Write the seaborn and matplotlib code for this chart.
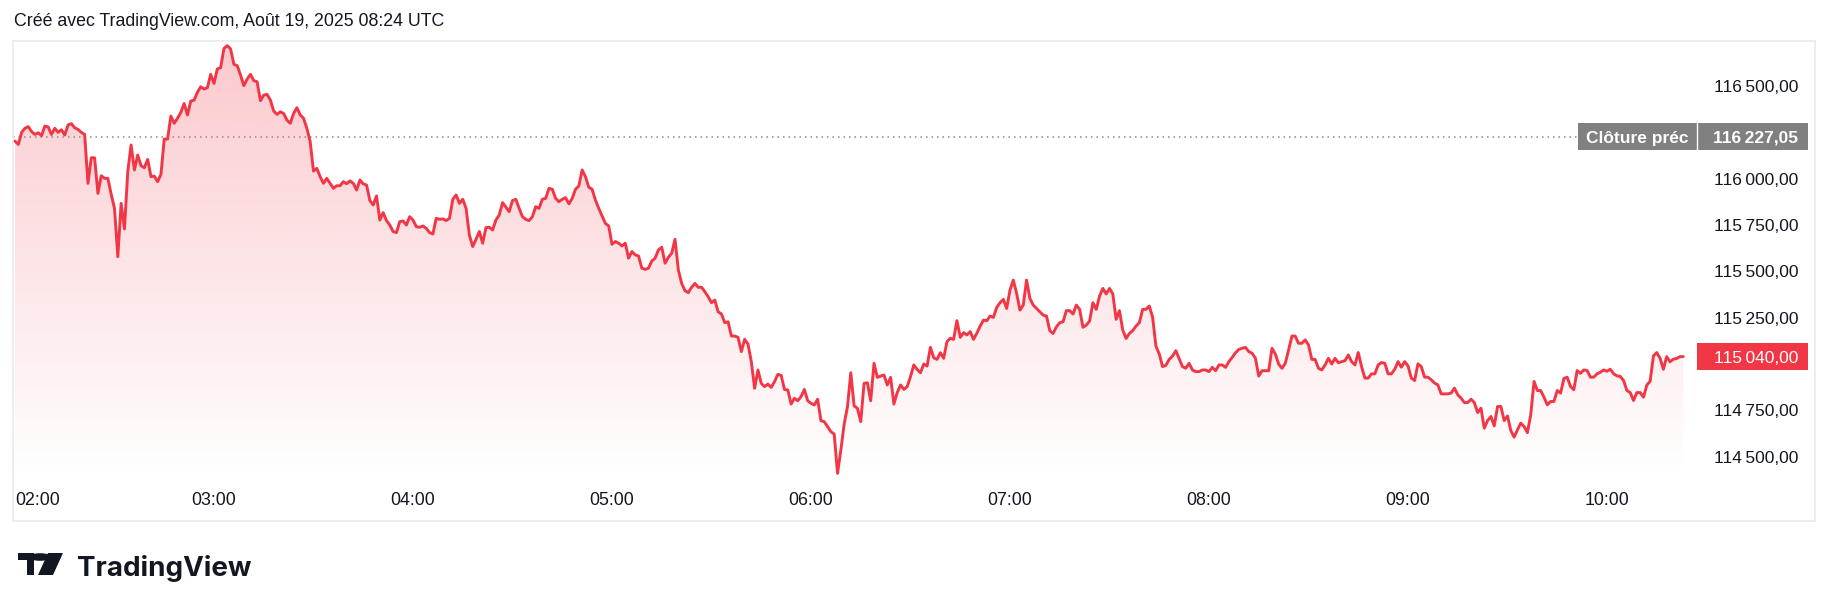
import numpy as np
import pandas as pd
import matplotlib
matplotlib.use("Agg")
import matplotlib.pyplot as plt
import matplotlib.dates as mdates
import matplotlib.transforms as mtransforms
from matplotlib.colors import to_rgb
from matplotlib.patches import Rectangle, Polygon, Circle
import seaborn as sns

# BTC price, 1-minute closes (02:00 -> 10:23)
prices_0200 = [
    116203, 116185, 116250, 116272, 116281, 116254, 116239, 116248, 116232, 116284,
    116279, 116239, 116272, 116250, 116264, 116236, 116290, 116297, 116275, 116266,
    116250, 116239, 115975, 116113, 116113, 115921, 116016, 116002, 116002, 115916,
    115840, 115579, 115867, 115729, 116038, 116182, 116047, 116128, 116070, 116059,
    116104, 116011, 116014, 115984, 116023, 116214, 116214, 116338, 116299, 116326,
    116358, 116406, 116344, 116419, 116424, 116466, 116496, 116484, 116491, 116563,
    116514, 116592, 116599, 116703, 116718, 116700, 116617, 116610, 116559, 116502,
    116538, 116563, 116529, 116523, 116421, 116451, 116455, 116424, 116365, 116347,
    116361, 116352, 116316, 116299, 116352, 116383, 116344, 116326, 116272, 116200,
    116041, 116056, 116011, 115975, 116002, 115975, 115948, 115962, 115962, 115984,
    115973,
]
prices_0341 = [
    115988, 115975, 115939, 115993, 115972, 115966, 115882, 115858, 115907, 115777,
    115817, 115774, 115750, 115715, 115709, 115768, 115772, 115750, 115795, 115777,
    115741, 115738, 115745, 115732, 115709, 115702, 115786, 115781, 115783, 115774,
    115786, 115889, 115912, 115867, 115889, 115840, 115696, 115634, 115673, 115715,
    115652, 115736, 115738, 115723, 115777, 115804, 115871, 115846, 115822, 115882,
    115889, 115840, 115795, 115781, 115774, 115795, 115849, 115840, 115889, 115894,
    115948, 115943, 115894, 115876, 115889, 115898, 115864, 115894, 115943, 115961,
    116047, 116011, 115954, 115943, 115885, 115840, 115799, 115759, 115745, 115646,
    115661, 115652, 115637, 115652, 115571, 115607, 115589, 115583, 115517, 115511,
    115517, 115556, 115571, 115616, 115630, 115544, 115576, 115598, 115673, 115508,
]
prices_0521 = [
    115435, 115396, 115385, 115414, 115435, 115414, 115414, 115390, 115363, 115331,
    115345, 115282, 115270, 115223, 115228, 115151, 115151, 115144, 115067, 115133,
    115108, 115013, 114869, 114968, 114896, 114878, 114892, 114874, 114905, 114944,
    114939, 114863, 114860, 114784, 114815, 114802, 114824, 114863, 114802, 114788,
    114779, 114810, 114694, 114689, 114662, 114635, 114622, 114410, 114536, 114676,
    114770, 114953, 114774, 114761, 114689, 114896, 114899, 114802, 115004, 114928,
    114935, 114941, 114887, 114928, 114784, 114846, 114887, 114863, 114878, 114932,
    114995, 114971, 114953, 115000, 114989, 115090, 115034, 115025, 115061, 115031,
    115121, 115139, 115133,
    115234, 115144, 115169, 115157, 115175, 115133, 115166, 115205, 115237, 115234,
    115259, 115252, 115306, 115331, 115349, 115300, 115399, 115453,
]
prices_0702 = [
    115381, 115291, 115318, 115453, 115354, 115318, 115300, 115282, 115264, 115259,
    115180, 115165, 115201, 115223, 115228, 115288, 115288, 115270, 115318, 115295,
    115198, 115210, 115232, 115331, 115295, 115367, 115408, 115378, 115408, 115378,
    115241, 115288, 115183, 115138, 115165, 115180, 115205, 115223, 115295, 115295,
    115313, 115252, 115097, 115054, 114986, 114993, 115025, 115043, 115072, 115029,
    114986, 114977, 115004, 114968, 114959, 114959, 114968, 114968, 114959, 114982,
    114964, 114995, 114995, 114982, 115013, 115036, 115061, 115079, 115085, 115090,
    115067, 115058, 115031, 114935, 114964, 114964, 114964, 115085, 115054, 115000,
    114977, 115004, 115076, 115151, 115151, 115112, 115112, 115130, 115103, 115025,
    115025, 114977, 114968, 114995, 115031, 115000, 115031, 115007, 115013, 115018,
]
prices_0842 = [
    115049, 115013, 114995, 115062, 114986, 114924, 114924, 114947, 114947, 114995,
    115008, 115004, 114947, 114947, 114972, 115013, 114983, 115013, 114990, 114924,
    114911, 115001, 114986, 114929, 114929, 114915, 114897, 114888, 114839, 114839,
    114839, 114843, 114870, 114834, 114816, 114792, 114792, 114810, 114792, 114738,
    114762, 114654, 114695, 114717, 114666, 114771, 114771, 114695, 114720, 114641,
    114605, 114645, 114681, 114663, 114630, 114726, 114906, 114857, 114857, 114821,
    114780, 114798, 114798, 114857, 114843, 114922, 114929, 114879, 114861, 114965,
    114950, 114968, 114965, 114929, 114929, 114947, 114956, 114968, 114961, 114972,
    114947, 114936, 114933, 114911, 114857, 114846, 114803, 114846, 114846, 114821,
    114886, 114907, 115044, 115062, 115031, 114972, 115040, 115012, 115026, 115030,
    115040, 115040,
]

prev_close = 116227.05
last_price = 115040.00
# 115 000 and 116 250 sit under the two price badges, so they are not printed
price_ticks = [114500, 114750, 115250, 115500, 115750, 116000, 116500]
hour_labels = ["02:00", "03:00", "04:00", "05:00", "06:00", "07:00", "08:00", "09:00", "10:00"]
title = "Créé avec TradingView.com, Août 19, 2025 08:24 UTC"

RED = "#F23645"
INK = "#131722"
W, H = 1830, 611

price = np.array(prices_0200 + prices_0341 + prices_0521 + prices_0702 + prices_0842, dtype=float)
t0 = pd.Timestamp("2025-08-19 02:00")
df = pd.DataFrame({"time": pd.date_range(t0, periods=len(price), freq="min"), "price": price})

sns.set_theme(style="white")
plt.rcParams["font.family"] = ["Liberation Sans", "DejaVu Sans"]

fig = plt.figure(figsize=(W / 100, H / 100), dpi=100)
ax = fig.add_axes([13 / W, 1 - 521 / H, 1802 / W, 480 / H])


def px_time(px):
    # horizontal pixel -> timestamp (02:00 sits at x=15, one hour = 199 px)
    return t0 + pd.Timedelta(minutes=(px - 15) / 199 * 60)


def ax_frac(px):
    return (px - 13) / 1802


sns.lineplot(data=df, x="time", y="price", color=RED, linewidth=2.1, ax=ax, zorder=4)

# gradient area under the line
x_num = mdates.date2num(df["time"])
base = 114391
y_top = 116743
poly = Polygon(np.column_stack([np.r_[x_num[0], x_num, x_num[-1]], np.r_[base, price, base]]),
               closed=True, facecolor="none", edgecolor="none")
ax.add_patch(poly)
grad = np.zeros((256, 1, 4))
grad[..., :3] = to_rgb(RED)
grad[:, 0, 3] = np.linspace(0.27, 0.0, 256)
img = ax.imshow(grad, aspect="auto", extent=[x_num[0], x_num[-1], base, y_top],
                origin="upper", zorder=1, interpolation="bilinear")
img.set_clip_path(poly)

ax.set_xlim(px_time(13), px_time(1815))
ax.set_ylim(114153, y_top)

# previous close dotted line
ax.hlines(prev_close, px_time(13), px_time(1578), colors="#8a8a8a",
          linestyles=(0, (1, 2.6)), linewidth=1.1, zorder=2)

# axes ticks
ax.set_xticks([t0 + pd.Timedelta(hours=i) for i in range(len(hour_labels))])
ax.set_xticklabels(hour_labels)
ax.tick_params(axis="x", length=0, pad=-21, labelsize=12.8, labelcolor=INK)
ax.get_xticklabels()[0].set_ha("left")

fmt = lambda v: f"{v:,.2f}".replace(",", "\u202f").replace(".", ",")
ax.set_yticks(price_ticks)
ax.set_yticklabels([fmt(v) for v in price_ticks])
ax.tick_params(axis="y", left=False, right=False, labelleft=False, labelright=True,
               length=0, pad=-12.2, labelsize=12.5, labelcolor=INK)
for lab in ax.get_yticklabels():
    lab.set_ha("right")

ax.set_xlabel("")
ax.set_ylabel("")
ax.grid(False)
for sp in ax.spines.values():
    sp.set_color("#ececec")
    sp.set_linewidth(1.3)

# price labels on the scale
trans = mtransforms.blended_transform_factory(ax.transAxes, ax.transData)
half = 13.5 * 5.395
ax.add_patch(Rectangle((ax_frac(1578), prev_close - half), ax_frac(1808) - ax_frac(1578), 2 * half,
                       transform=trans, facecolor="#808080", edgecolor="none", zorder=6, clip_on=False))
ax.plot([ax_frac(1697)] * 2, [prev_close - half, prev_close + half], transform=trans,
        color="white", linewidth=1, zorder=7)
ax.text(ax_frac(1637), prev_close, "Clôture préc", transform=trans, ha="center", va="center_baseline",
        color="white", fontsize=12.5, fontweight="bold", zorder=8)
ax.text(ax_frac(1798), prev_close, fmt(prev_close), transform=trans, ha="right", va="center_baseline",
        color="white", fontsize=12.5, fontweight="bold", zorder=8)
ax.add_patch(Rectangle((ax_frac(1697), last_price - half), ax_frac(1808) - ax_frac(1697), 2 * half,
                       transform=trans, facecolor=RED, edgecolor="none", zorder=6, clip_on=False))
ax.text(ax_frac(1798), last_price, fmt(last_price), transform=trans, ha="right", va="center_baseline",
        color="white", fontsize=12.5, zorder=8)

fig.text(14 / W, 1 - 22 / H, title, fontsize=12.8, va="center", ha="left", color=INK)


# TradingView logo at the bottom
def fp(x, y):
    return (x / W, 1 - y / H)


fig.patches.append(Polygon([fp(18, 553), fp(33.5, 553), fp(33.5, 575), fp(26.5, 575), fp(26.5, 560), fp(18, 560)],
                           closed=True, transform=fig.transFigure, facecolor=INK, edgecolor="none"))
fig.patches.append(Circle(fp(40, 557), 3.8 / H, transform=fig.transFigure, facecolor=INK, edgecolor="none"))
fig.patches.append(Polygon([fp(48, 553), fp(63, 553), fp(53, 575), fp(38, 575)],
                           closed=True, transform=fig.transFigure, facecolor=INK, edgecolor="none"))
fig.text(77 / W, 1 - 576 / H, "TradingView", fontsize=20, fontweight="bold", va="baseline", ha="left",
         color=INK, family=["Inter", "DejaVu Sans"])

fig.savefig("out.png", dpi=100)
